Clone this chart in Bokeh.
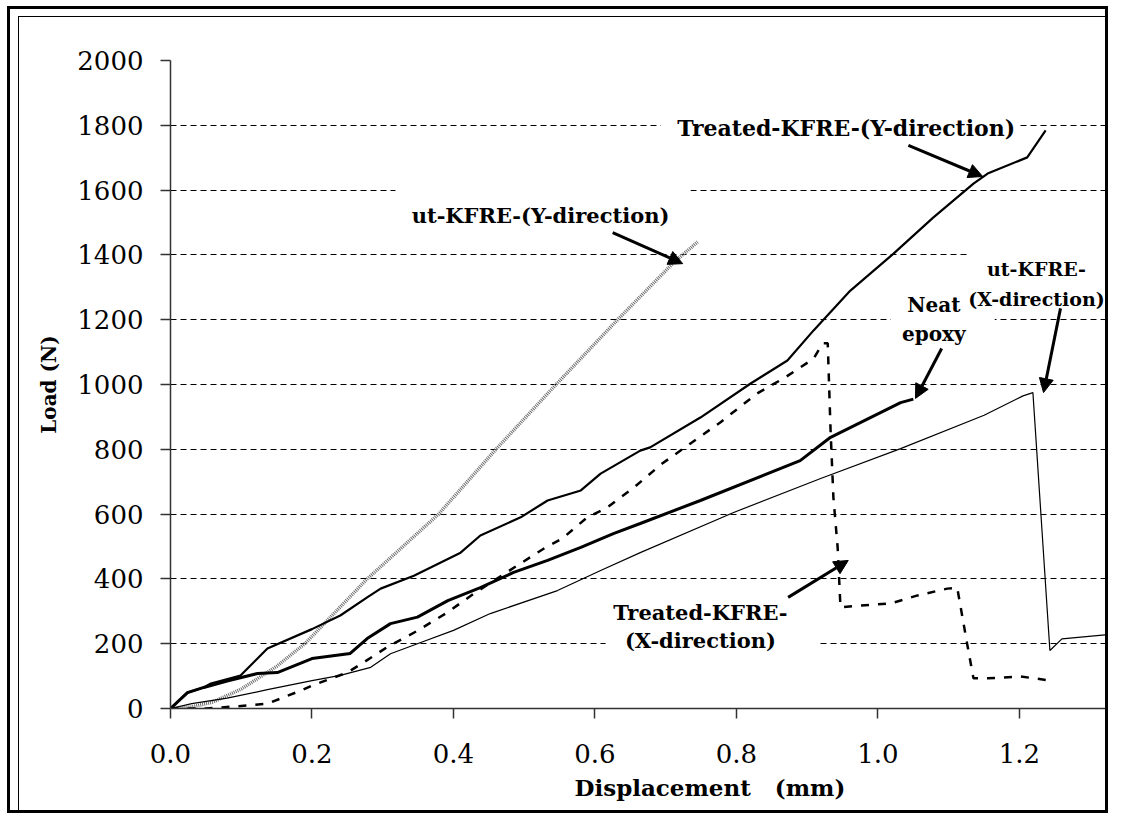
from bokeh.plotting import figure
from bokeh.models import (Range1d, FixedTicker, Label, Arrow, NormalHead,
                          BoxAnnotation, PrintfTickFormatter, Title)
from bokeh.embed import file_html
from bokeh.resources import INLINE

# ---------------- data ----------------
ut_y_x = [0, 0.03, 0.06, 0.10, 0.15, 0.19, 0.278, 0.379, 0.46, 0.545, 0.632, 0.711, 0.745]
ut_y_y = [0, 5, 20, 60, 130, 200, 400, 600, 800, 1000, 1200, 1376, 1440]

tr_y_x = [0, 0.024, 0.047, 0.057, 0.099, 0.137, 0.20, 0.24, 0.278, 0.297, 0.344, 0.41,
          0.438, 0.495, 0.533, 0.58, 0.608, 0.664, 0.678, 0.749, 0.82, 0.872, 0.909,
          0.961, 1.022, 1.078, 1.135, 1.155, 1.211, 1.237]
tr_y_y = [0, 49, 65, 77, 102, 185, 245, 287, 343, 370, 410, 481, 534, 590, 642, 673,
          725, 796, 806, 898, 1003, 1074, 1167, 1290, 1404, 1515, 1620, 1651, 1701, 1784]

neat_x = [0, 0.024, 0.047, 0.08, 0.123, 0.151, 0.20, 0.254, 0.278, 0.311, 0.349, 0.392,
          0.438, 0.485, 0.533, 0.58, 0.626, 0.664, 0.749, 0.89, 0.933, 1.032, 1.05]
neat_y = [0, 49, 65, 85, 108, 111, 154, 170, 216, 262, 282, 333, 373, 420, 457, 497,
          540, 571, 642, 765, 837, 944, 955]

ut_x_x = [0, 0.03, 0.08, 0.137, 0.20, 0.24, 0.283, 0.311, 0.349, 0.40, 0.452, 0.547,
          0.608, 0.664, 0.796, 0.919, 1.032, 1.15, 1.205, 1.219, 1.243, 1.26, 1.324]
ut_x_y = [0, 15, 32, 58, 86, 102, 127, 169, 200, 241, 293, 364, 426, 481, 605, 710,
          802, 905, 965, 975, 179, 215, 228]

tr_x_x = [0, 0.05, 0.089, 0.137, 0.184, 0.20, 0.25, 0.27, 0.306, 0.349, 0.391, 0.429,
          0.49, 0.528, 0.554, 0.589, 0.617, 0.655, 0.695, 0.735, 0.777, 0.829, 0.869,
          0.909, 0.922, 0.929, 0.933, 0.937, 0.943, 0.947, 0.975, 1.018, 1.056, 1.098,
          1.112, 1.126, 1.135, 1.155, 1.201, 1.244]
tr_x_y = [0, 0, 6, 15, 55, 71, 111, 138, 189, 240, 296, 355, 441, 494, 525, 590, 620,
          682, 756, 818, 883, 972, 1022, 1080, 1127, 1127, 858, 651, 497, 312, 318, 324,
          349, 370, 373, 200, 93, 93, 99, 86]

x_ticks = [0.0, 0.2, 0.4, 0.6, 0.8, 1.0, 1.2]
y_ticks = [0, 200, 400, 600, 800, 1000, 1200, 1400, 1600, 1800, 2000]
grid_ticks = [200, 400, 600, 800, 1000, 1200, 1400, 1600, 1800]

SERIF = "DejaVu Serif"
NB = "\u00a0"

W, H = 1101, 807
p = figure(width=W, height=H, output_backend="svg", toolbar_location=None,
           x_range=Range1d(0, 1.3216), y_range=Range1d(0, 2000),
           min_border_left=160, min_border_right=6, min_border_top=51,
           min_border_bottom=108)
p.outline_line_color = None
p.background_fill_color = "white"
p.border_fill_color = None
# page frame: thick outer border + thin inner line (left / top)
p.styles = {
    "margin-left": "7px",
    "margin-top": "6px",
    "border": "3px solid black",
    "background-color": "white",
    "box-shadow": "inset 8px 7px 0 0 white, inset 9px 8px 0 0 black",
}

# axes
for ax in (p.xaxis[0], p.yaxis[0]):
    ax.major_tick_out = 10
    ax.major_tick_in = 0
    ax.minor_tick_line_color = None
    ax.axis_line_color = "#333333"
    ax.axis_line_width = 1.5
    ax.major_tick_line_color = "#333333"
    ax.major_tick_line_width = 1.5
    ax.major_label_text_font = SERIF
    ax.major_label_text_font_size = "26px"
    ax.major_label_text_color = "black"

p.xaxis.ticker = FixedTicker(ticks=x_ticks)
p.xaxis.formatter = PrintfTickFormatter(format="%.1f")
p.xaxis.major_label_standoff = 25
p.yaxis.ticker = FixedTicker(ticks=y_ticks)
p.yaxis.major_label_standoff = 17
p.yaxis.axis_label = "Load (N)"
p.yaxis.axis_label_text_font = SERIF
p.yaxis.axis_label_text_font_style = "bold"
p.yaxis.axis_label_text_font_size = "20px"
p.yaxis.axis_label_text_color = "black"
p.yaxis.axis_label_standoff = 13

p.add_layout(Title(text="Displacement" + NB * 3 + "(mm)", align="left", offset=404,
                   text_font=SERIF, text_font_style="bold", text_font_size="23px",
                   text_color="black", standoff=12), "below")

p.xgrid.visible = False
p.ygrid.ticker = FixedTicker(ticks=grid_ticks)
p.ygrid.grid_line_color = "black"
p.ygrid.grid_line_dash = "6 4"
p.ygrid.grid_line_width = 1

# curves
p.line(ut_y_x, ut_y_y, line_color="#6e6e6e", line_width=3.5, line_dash="1 1")
p.line(tr_y_x, tr_y_y, line_color="black", line_width=2.2)
p.line(neat_x, neat_y, line_color="black", line_width=3)
p.line(ut_x_x, ut_x_y, line_color="black", line_width=1.2)
p.line(tr_x_x, tr_x_y, line_color="black", line_width=2.5, line_dash="8 9")

# white label boxes (hide gridlines behind the text boxes)
boxes = [
    (0.318, 0.735, 1429, 1614),   # ut-Y
    (0.693, 1.197, 1738, 1840),   # treated-Y
    (1.130, 1.40, 1259, 1531),    # ut-X
    (1.018, 1.165, 1120, 1290),   # neat
    (0.615, 0.916, 173, 349),     # treated-X
]
for l, r, b, t in boxes:
    p.add_layout(BoxAnnotation(left=l, right=r, bottom=b, top=t,
                               fill_color="white", fill_alpha=1, line_color=None))

def lab(x, y, text, size="21px"):
    p.add_layout(Label(x=x, y=y, text=text,
                       text_font=SERIF, text_font_style="bold",
                       text_font_size=size, text_color="black",
                       text_align="center", text_baseline="middle"))

lab(0.523, 1522, "ut-KFRE-(Y-direction)")
lab(0.955, 1793, "Treated-KFRE-(Y-direction)", size="22px")
lab(1.224, 1358, "ut-KFRE-", size="19px")
lab(1.224, 1265, "(X-direction)", size="19px")
lab(1.079, 1244, "Neat", size="20px")
lab(1.079, 1157, "epoxy", size="20px")
lab(0.749, 296, "Treated-KFRE-")
lab(0.749, 210, "(X-direction)")

# arrows
arrows = [
    (0.625, 1469, 0.724, 1373),
    (1.043, 1738, 1.148, 1642),
    (1.258, 1235, 1.234, 975),
    (1.090, 1111, 1.053, 957),
    (0.873, 343, 0.958, 457),
]
for xs, ys, xe, ye in arrows:
    p.add_layout(Arrow(end=NormalHead(size=14, fill_color="black", line_color="black"),
                       x_start=xs, y_start=ys, x_end=xe, y_end=ye,
                       line_width=3, line_color="black"))

open("out.html", "w").write(file_html(p, INLINE))
